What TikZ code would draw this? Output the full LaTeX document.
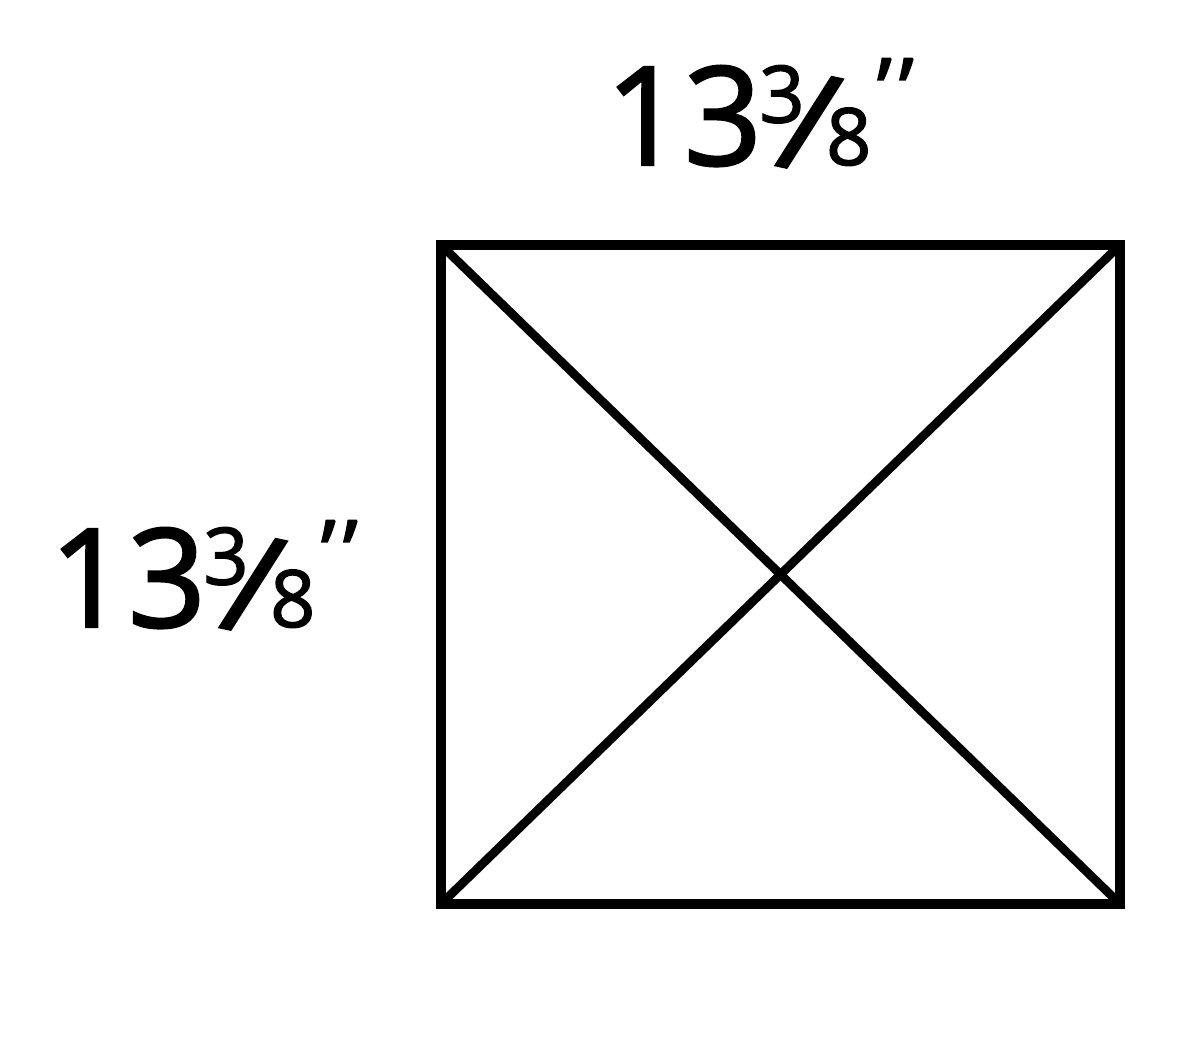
\documentclass[tikz,border=0pt]{standalone}
\usepackage{fontspec}
\setmainfont{Open Sans}
\newfontfamily\dimfont{Open Sans}[BoldFont={Open Sans}, BoldFeatures={FakeBold=1.8}]
\newcommand{\bigsz}{\fontsize{78}{80}\selectfont}
\newcommand{\smallsz}{\fontsize{45}{46}\selectfont}
\newcommand{\dimlabel}{{\dimfont\bfseries\bigsz 13\kern-0.02em\raisebox{0.31em}{\smallsz 3}\kern-0.22em\rotatebox{-12}{/}\kern-0.13em{\smallsz 8}\kern0.04em\raisebox{0.32em}{\fontsize{50}{52}\selectfont\textquoteright\kern0.08em\textquoteright}}}
\begin{document}
\begin{tikzpicture}
      \useasboundingbox (0,0) rectangle (24,20.94);
      \coordinate (tl) at (8.82,16.04);
      \coordinate (tr) at (22.40,16.04);
      \coordinate (bl) at (8.82,2.86);
      \coordinate (br) at (22.40,2.86);
      \draw[line width=5.4pt, line join=miter] (tl) -- (tr) -- (br) -- (bl) -- cycle;
      \draw[line width=5pt] (tl) -- (br);
      \draw[line width=5pt] (bl) -- (tr);
      \node[anchor=base west, inner sep=0pt] (width) at (12.10,17.64) {\dimlabel};
      \node[anchor=base west, inner sep=0pt] (height) at (0.98,8.40) {\dimlabel};
\end{tikzpicture}
\end{document}
